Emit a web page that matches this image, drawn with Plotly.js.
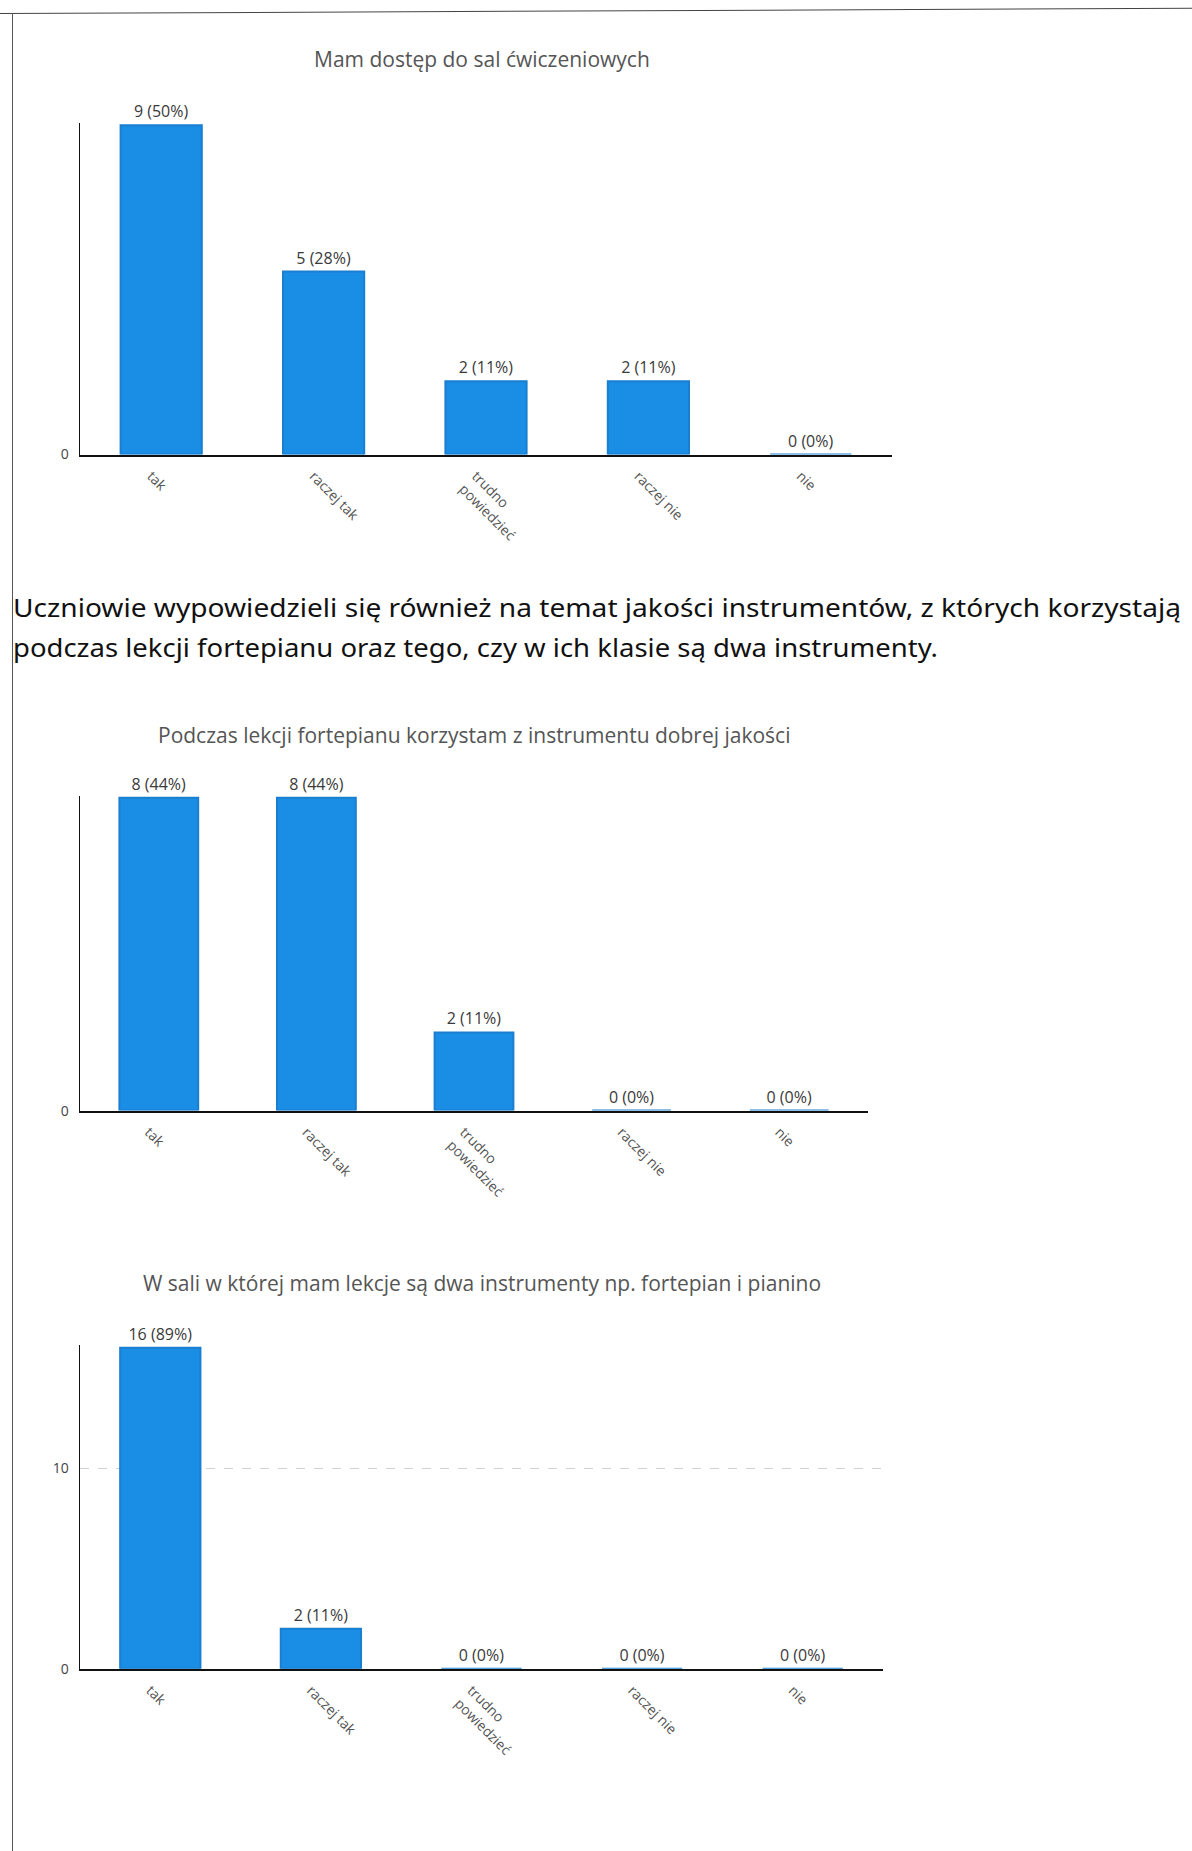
<!DOCTYPE html>
<html>
<head>
<meta charset="utf-8">
<script src="https://cdn.plot.ly/plotly-3.0.1.min.js"></script>
<style>
  html, body { margin: 0; padding: 0; background: #fff; }
  #wrap { position: relative; width: 1192px; height: 1851px; overflow: hidden; }
  #chart { position: absolute; left: 0; top: 0; width: 1192px; height: 1851px; }
  #topline { position: absolute; left: 0; top: 13px; width: 1200px; height: 0; border-top: 1.5px solid #444; transform-origin: 0 0; transform: rotate(-0.25deg); }
  #leftline { position: absolute; left: 12px; top: 13px; width: 0; height: 1840px; border-left: 1.5px solid #555; }
  .para { position: absolute; left: 13px; font-family: "Noto Sans", sans-serif; font-size: 26px; color: #111; white-space: nowrap; transform-origin: 0 50%; line-height: 40px; }
</style>
</head>
<body>
<div id="wrap">
  <div id="chart"></div>
  <div id="topline"></div>
  <div id="leftline"></div>
  <div class="para" id="p1" style="top:587px">Uczniowie wypowiedzieli się również na temat jakości instrumentów, z których korzystają</div>
  <div class="para" id="p2" style="top:627px">podczas lekcji fortepianu oraz tego, czy w ich klasie są dwa instrumenty.</div>
</div>
<script>
// ---- data ----
const categories = ["tak", "raczej tak", "trudno<br>powiedzieć", "raczej nie", "nie"];

const title1 = "Mam dostęp do sal ćwiczeniowych";
const values1 = [9, 5, 2, 2, 0];

const title2 = "Podczas lekcji fortepianu korzystam z instrumentu dobrej jakości";
const values2 = [8, 8, 2, 0, 0];

const title3 = "W sali w której mam lekcje są dwa instrumenty np. fortepian i pianino";
const values3 = [16, 2, 0, 0, 0];

const ticks1 = [0];
const ticks2 = [0];
const ticks3 = [0, 10];

// ---- build ----
const barColor = "#1a8de4";
function labels(vals) {
  const total = vals.reduce((a, b) => a + b, 0);
  return vals.map(v => v + " (" + Math.round(100 * v / total) + "%)");
}
function barTrace(vals, xa, ya) {
  return {
    type: "bar", x: categories, y: vals, xaxis: xa, yaxis: ya,
    text: labels(vals), textposition: "outside", cliponaxis: false,
    textfont: { family: "Open Sans", size: 16, color: "#3a3a3a" },
    marker: { color: barColor, line: { color: "#1a7fd0", width: 2 } },
    hoverinfo: "skip", showlegend: false
  };
}

const H = 1851, W = 1192;
const py = px => 1 - px / H;
const pxX = px => px / W;

function xaxisDef(r) {
  return {
    domain: [pxX(80), pxX(r)], type: "category", showline: true, linecolor: "#111", linewidth: 2,
    ticks: "", tickangle: 45, showgrid: false, zeroline: false,
    ticklabelshift: -10, ticklabelstandoff: 6,
    tickfont: { family: "Open Sans", size: 14, color: "#555" }, fixedrange: true
  };
}
function yaxisDef(top, bot, rmax, tv, anchor) {
  return {
    domain: [py(bot), py(top)], range: [0, rmax], anchor: anchor,
    showline: true, linecolor: "#111", linewidth: 1.5, ticks: "",
    tickvals: tv, showgrid: true, gridcolor: "#d2d2d2", griddash: "dash", gridwidth: 1,
    ticklabelstandoff: 7,
    zeroline: false, tickfont: { family: "Open Sans", size: 14, color: "#444" }, fixedrange: true
  };
}

const data = [
  barTrace(values1, "x", "y"),
  barTrace(values2, "x2", "y2"),
  barTrace(values3, "x3", "y3")
];

function titleAnn(text, xpx, ypx) {
  return {
    text: text, xref: "paper", yref: "paper", x: pxX(xpx), y: py(ypx),
    xanchor: "center", yanchor: "middle", showarrow: false,
    font: { family: "Open Sans", size: 21, color: "#555" }
  };
}

const layout = {
  width: W, height: H, margin: { l: 0, r: 0, t: 0, b: 0 },
  paper_bgcolor: "#fff", plot_bgcolor: "#fff",
  bargap: 0.5,
  xaxis: Object.assign(xaxisDef(892), { anchor: "y" }),
  yaxis: yaxisDef(123, 454.5, 9.06, ticks1, "x"),
  xaxis2: Object.assign(xaxisDef(868), { anchor: "y2" }),
  yaxis2: yaxisDef(795.5, 1110.6, 8.06, ticks2, "x2"),
  xaxis3: Object.assign(xaxisDef(883), { anchor: "y3" }),
  yaxis3: yaxisDef(1345.4, 1668.8, 16.12, ticks3, "x3"),
  annotations: [titleAnn(title1, 482, 59), titleAnn(title2, 474, 735), titleAnn(title3, 482, 1283)]
};

Plotly.newPlot("chart", data, layout, { staticPlot: true, displayModeBar: false });

// fit paragraph lines to their measured widths in the reference
function fit(id, target) {
  const el = document.getElementById(id);
  const w = el.getBoundingClientRect().width;
  el.style.transform = "scaleX(" + (target / w) + ")";
}
fit("p1", 1168);
fit("p2", 925);
</script>
</body>
</html>
